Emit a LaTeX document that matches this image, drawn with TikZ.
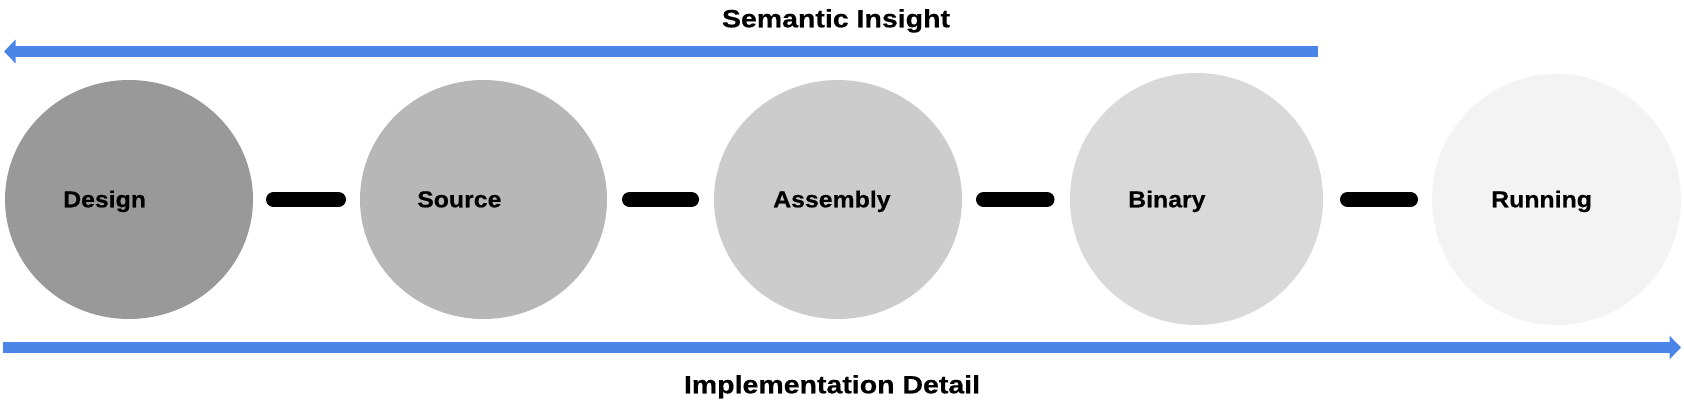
\documentclass[tikz,border=0pt]{standalone}
\usepackage{fontspec}
\newfontfamily\lblfont{Liberation Sans}[FakeStretch=1.08,FakeBold=0.5]
\newfontfamily\ttlfont{Liberation Sans}[FakeStretch=1.14,FakeBold=0.5]
\usetikzlibrary{arrows.meta,shapes.geometric}
\definecolor{cblue}{HTML}{4A86E8}
\definecolor{gA}{HTML}{999999}
\definecolor{gB}{HTML}{B7B7B7}
\definecolor{gC}{HTML}{CCCCCC}
\definecolor{gD}{HTML}{D9D9D9}
\definecolor{gE}{HTML}{F3F3F3}
\tikzset{
  stage/.style={ellipse, draw=none, inner sep=0pt, outer sep=0pt},
  lbl/.style={anchor=base west, inner sep=0pt, font=\lblfont\bfseries\fontsize{23}{23}\selectfont},
  ttl/.style={anchor=base, inner sep=0pt, font=\ttlfont\bfseries\fontsize{25}{25}\selectfont},
  linkbar/.style={line width=15pt, line cap=round, black},
  flow/.style={cblue, line width=11.5pt, -{Triangle[length=11.5pt,width=23pt]}}
}
\begin{document}
\begin{tikzpicture}[x=1pt,y=-1pt]
\useasboundingbox (0,0) rectangle (1684,406);
% stages
\node[stage, fill=gA, minimum width=248pt, minimum height=239pt] (e1) at (129,199.5) {};
\node[stage, fill=gB, minimum width=247pt, minimum height=239pt] (e2) at (483.5,199.5) {};
\node[stage, fill=gC, minimum width=248pt, minimum height=239pt] (e3) at (838,199.5) {};
\node[stage, fill=gD, minimum width=253pt, minimum height=252pt] (e4) at (1196.5,199) {};
\node[stage, fill=gE, minimum width=249pt, minimum height=251pt] (e5) at (1556.5,199.5) {};
% labels
\node[lbl] (design) at (63,207.3) {Design};
\node[lbl] (source) at (417,207.3) {Source};
\node[lbl] (assembly) at (773,207.3) {Assembly};
\node[lbl] (binary) at (1128,207.3) {Binary};
\node[lbl] (running) at (1491,207.3) {Running};
% connectors between stages
\draw[linkbar] ([xshift=20.5pt]e1.east) -- ([xshift=-21.5pt]e2.west);
\draw[linkbar] ([xshift=22.5pt]e2.east) -- ([xshift=-22.5pt]e3.west);
\draw[linkbar] ([xshift=21.5pt]e3.east) -- ([xshift=-23pt]e4.west |- e3.east);
\draw[linkbar] ([xshift=24.5pt]e4.east |- e5.west) -- ([xshift=-21.5pt]e5.west);
% flow arrows
\coordinate (topR) at (1318,51.5);
\coordinate (topL) at (4,51.5);
\coordinate (botL) at (3,347.5);
\coordinate (botR) at (1681,347.5);
\draw[flow] (topR) -- (topL);
\draw[flow, line width=11pt] (botL) -- (botR);
% titles
\node[ttl] (sem) at (836,27.3) {Semantic Insight};
\node[ttl] (impl) at (832,393.3) {Implementation Detail};
\end{tikzpicture}
\end{document}
